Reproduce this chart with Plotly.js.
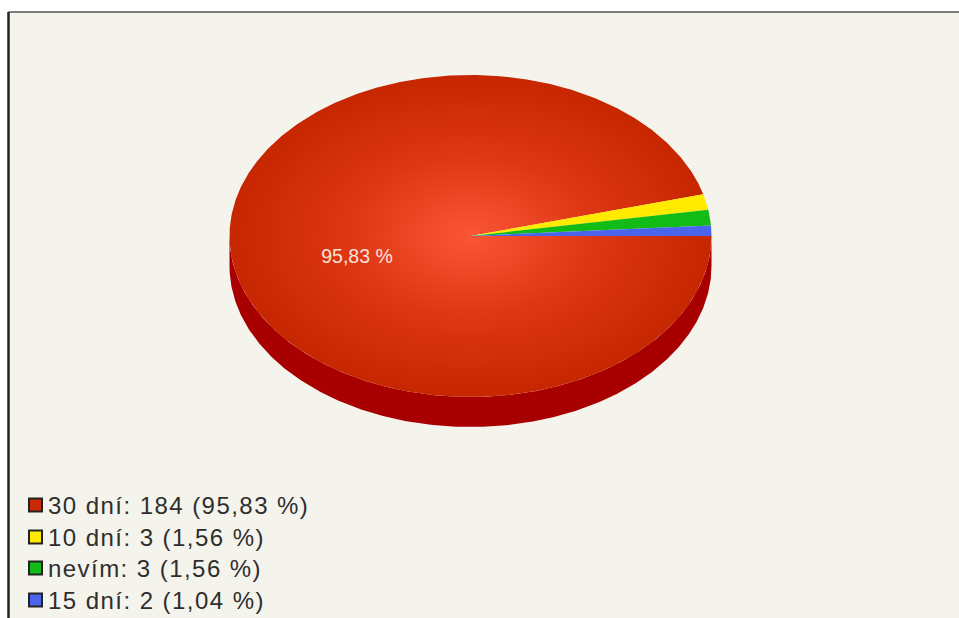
<!DOCTYPE html>
<html>
<head>
<meta charset="utf-8">
<script src="https://cdn.plot.ly/plotly-3.0.1.min.js"></script>
<style>
  html, body { margin: 0; padding: 0; background: #fff; }
  #chart { width: 959px; height: 618px; }
  .annotation-text { letter-spacing: 1.45px; }
</style>
</head>
<body>
<div id="chart"></div>
<script>
// Survey answers
const categories = ['30 dní', '10 dní', 'nevím', '15 dní'];
const counts = [184, 3, 3, 2];
const percentLabels = ['95,83', '1,56', '1,56', '1,04'];
const sliceColors = ['#cc2a06', '#ffea00', '#12bb16', '#4a64ee'];

// Tilted pie geometry, in canvas pixels
const cx = 470.5, cy = 236, rx = 241, ry = 161, depth = 30;
const wallColor = '#a80000';
const redGradient = [[0, '#fa5535'], [0.5, '#de3715'], [1, '#c62600']];

const ink = '#2e2e2e';
const total = counts.reduce((a, b) => a + b, 0);

function arc(fromDeg, toDeg, offset) {
  const xs = [], ys = [];
  const steps = Math.max(2, Math.ceil(Math.abs(toDeg - fromDeg) / 0.5));
  for (let i = 0; i <= steps; i++) {
    const a = (fromDeg + (toDeg - fromDeg) * i / steps) * Math.PI / 180;
    xs.push(cx + rx * Math.cos(a));
    ys.push(cy + offset + ry * Math.sin(a));
  }
  return { xs, ys };
}

const traces = [];

// Side wall under the front half of the pie
const lower = arc(0, 180, depth);
const upper = arc(180, 0, 0);
traces.push({
  type: 'scatter', mode: 'lines', fill: 'toself',
  x: lower.xs.concat(upper.xs), y: lower.ys.concat(upper.ys),
  line: { width: 0 }, fillcolor: wallColor, hoverinfo: 'skip'
});

// Slices run clockwise from the east
let angle = 0;
counts.forEach((count, i) => {
  const sweep = count / total * 360;
  const edge = arc(angle, angle + sweep, 0);
  const t = {
    type: 'scatter', mode: 'lines', fill: 'toself',
    x: [cx].concat(edge.xs, [cx]), y: [cy].concat(edge.ys, [cy]),
    line: { width: 0 }, fillcolor: sliceColors[i],
    name: categories[i], hoverinfo: 'name'
  };
  if (i === 0) t.fillgradient = { type: 'radial', colorscale: redGradient };
  traces.push(t);
  angle += sweep;
});

// Value label on the large slice
traces.push({
  type: 'scatter', mode: 'text',
  x: [357], y: [258], text: [percentLabels[0] + ' %'],
  textposition: 'middle center',
  textfont: { family: 'Liberation Sans', size: 19.5, color: '#fbe3d8' },
  hoverinfo: 'skip'
});

// Legend swatches
const legendRows = [505, 537, 568, 600];
traces.push({
  type: 'scatter', mode: 'markers',
  x: legendRows.map(() => 35.5), y: legendRows,
  marker: { symbol: 'square', size: 13, color: sliceColors, line: { color: '#222', width: 2 } },
  hoverinfo: 'skip'
});

const legendText = categories.map((c, i) => ({
  x: 45.5, y: legendRows[i], xref: 'x', yref: 'y',
  text: c + ': ' + counts[i] + ' (' + percentLabels[i] + ' %)',
  showarrow: false, xanchor: 'left', yanchor: 'middle',
  font: { family: 'Liberation Sans', size: 24, color: ink }
}));

const layout = {
  width: 959, height: 618,
  margin: { l: 0, r: 0, t: 0, b: 0 },
  paper_bgcolor: '#ffffff', plot_bgcolor: '#ffffff',
  showlegend: false,
  xaxis: { range: [0, 959], visible: false, fixedrange: true },
  yaxis: { range: [618, 0], visible: false, fixedrange: true },
  shapes: [
    { type: 'rect', layer: 'below', xref: 'x', yref: 'y', x0: 9, x1: 959, y0: 12, y1: 618,
      fillcolor: '#f5f4ec', line: { width: 0 } },
    { type: 'line', layer: 'below', xref: 'x', yref: 'y', x0: 8.5, x1: 959, y0: 12, y1: 12,
      line: { color: '#555', width: 1.5 } },
    { type: 'line', layer: 'below', xref: 'x', yref: 'y', x0: 8.5, x1: 8.5, y0: 12, y1: 618,
      line: { color: '#222', width: 2.5 } }
  ],
  annotations: legendText
};

Plotly.newPlot('chart', traces, layout, { displayModeBar: false, staticPlot: true });
</script>
</body>
</html>
